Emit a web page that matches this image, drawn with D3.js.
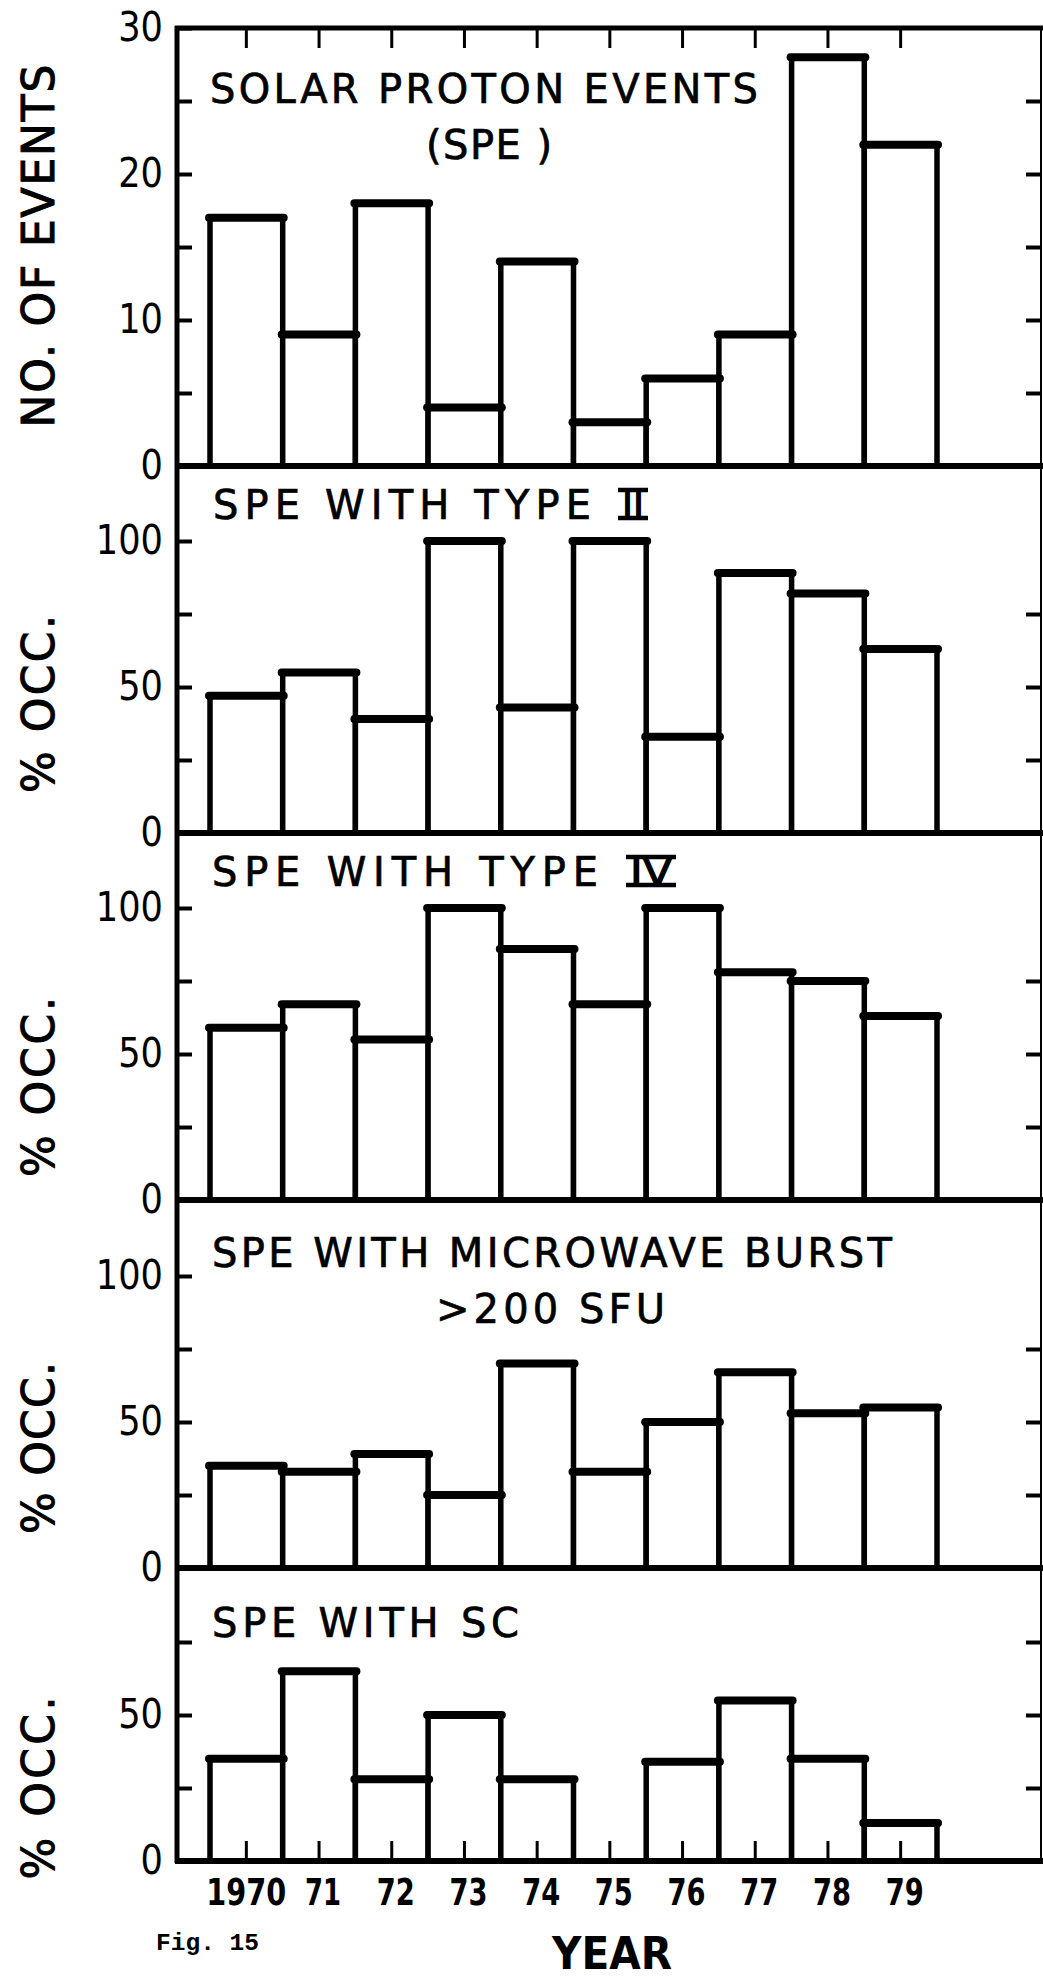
<!DOCTYPE html>
<html>
<head>
<meta charset="utf-8">
<script src="https://cdn.jsdelivr.net/npm/d3@7"></script>
<style>
  html, body { margin: 0; padding: 0; background: #fff; }
  svg { display: block; }
</style>
</head>
<body>
<svg id="chart" width="1043" height="1978"></svg>
<script>
// ---- data ----
const years = [1970, 1971, 1972, 1973, 1974, 1975, 1976, 1977, 1978, 1979];
const yearLabels = ["1970", "71", "72", "73", "74", "75", "76", "77", "78", "79"];

// number of solar proton events per year
const speCounts = [17, 9, 18, 4, 14, 3, 6, 9, 28, 22];
// percentage of SPE accompanied by each phenomenon
const pctTypeII = [47, 55, 39, 100, 43, 100, 33, 89, 82, 63];
const pctTypeIV = [59, 67, 55, 100, 86, 67, 100, 78, 75, 63];
const pctMicrowave = [35, 33, 39, 25, 70, 33, 50, 67, 53, 55];
const pctSC = [35, 65, 28, 50, 28, 0, 34, 55, 35, 13];

// tick values and labelled ticks
const countTicks = [0, 5, 10, 15, 20, 25, 30];
const countTickLabels = [0, 10, 20, 30];
const pctTicks = [0, 25, 50, 75, 100];
const pctTicksLow = [0, 25, 50, 75];
const pctTickLabels = [0, 50, 100];

// panel titles; a numeral entry is lettered as a barred Roman numeral
const panelTitles = [
  ["SOLAR PROTON EVENTS", "(SPE )"],
  ["SPE WITH TYPE"],
  ["SPE WITH TYPE"],
  ["SPE WITH MICROWAVE BURST", ">200 SFU"],
  ["SPE WITH SC"]
];
const panelNumerals = [null, "II", "IV", null, null];
const axisTitles = ["NO. OF EVENTS", "% OCC.", "% OCC.", "% OCC.", "% OCC."];
const panelSeries = [speCounts, pctTypeII, pctTypeIV, pctMicrowave, pctSC];
const panelMax = [30, 100, 100, 100, 100];
const panelTicks = [countTicks, pctTicks, pctTicks, pctTicks, pctTicksLow];
const panelTickLabels = [countTickLabels, pctTickLabels, pctTickLabels, pctTickLabels, pctTickLabels];

// ---- layout ----
const W = 1043, H = 1978;
const axisX = 177, rightX = 1041, edgeX = 1043;
const barLeft = 210, barRight = 937;
const pctHeight = 292;                     // pixels for 100 %
const panelBox = [
  { top: 28,   base: 466 },
  { top: 466,  base: 833 },
  { top: 833,  base: 1200 },
  { top: 1200, base: 1568 },
  { top: 1568, base: 1861 }
];
const axisTitlePos = [
  { x: 54, cy: 246,  len: 363 },
  { x: 54, cy: 704,  len: 178 },
  { x: 54, cy: 1087, len: 180 },
  { x: 54, cy: 1448, len: 172 },
  { x: 54, cy: 1788, len: 183 }
];
const titlePos = [
  [{ x: 210, y: 103, len: 548 }, { x: 489, y: 159, len: 126, mid: true }],
  [{ x: 213, y: 519, len: 378 }],
  [{ x: 212, y: 886, len: 386 }],
  [{ x: 212, y: 1267, len: 680 }, { x: 436, y: 1323, len: 229 }],
  [{ x: 212, y: 1637, len: 307 }]
];
const numeralPos = [null, { x: 618, w: 30, y: 519 }, { x: 626, w: 50, y: 886 }, null, null];
const yearLabelWidth = [80, 36, 38, 38, 38, 38, 38, 38, 38, 38];

const FONT = "'DejaVu Sans', 'Liberation Sans', sans-serif";
const svg = d3.select("#chart");
svg.append("rect").attr("width", W).attr("height", H).attr("fill", "#fff");

const x = d3.scaleBand().domain(years).range([barLeft, barRight]).paddingInner(0).paddingOuter(0);

panelSeries.forEach((series, p) => {
  const box = panelBox[p];
  const y = d3.scaleLinear()
    .domain([0, panelMax[p]])
    .range(p === 0 ? [box.base, box.top] : [box.base, box.base - pctHeight * panelMax[p] / 100]);

  const g = svg.append("g");

  // bars: open boxes with a heavier top edge
  const data = series.map((v, i) => ({ year: years[i], v })).filter(d => d.v > 0);
  const bars = g.append("g");
  bars.selectAll("rect")
    .data(data)
    .join("rect")
    .attr("x", d => x(d.year))
    .attr("y", d => y(d.v))
    .attr("width", x.bandwidth())
    .attr("height", d => y(0) - y(d.v))
    .attr("fill", "#fff")
    .attr("stroke", "#000")
    .attr("stroke-width", 5.5)
    .attr("stroke-linejoin", "round");
  bars.selectAll("line.top")
    .data(data)
    .join("line")
    .attr("class", "top")
    .attr("x1", d => x(d.year) - 1)
    .attr("x2", d => x(d.year) + x.bandwidth() + 1)
    .attr("y1", d => y(d.v))
    .attr("y2", d => y(d.v))
    .attr("stroke", "#000")
    .attr("stroke-width", 8)
    .attr("stroke-linecap", "round");

  // left axis with inward ticks
  const left = d3.axisLeft(y)
    .tickValues(panelTicks[p])
    .tickSizeInner(-15)
    .tickSizeOuter(0)
    .tickPadding(14)
    .tickFormat(d => panelTickLabels[p].includes(d) ? d : "");
  const ga = g.append("g").attr("transform", `translate(${axisX},0)`).call(left);
  ga.select(".domain").remove();
  ga.selectAll(".tick line").attr("stroke", "#000").attr("stroke-width", 4);
  ga.selectAll(".tick text")
    .attr("font-family", FONT)
    .attr("font-size", 40)
    .attr("fill", "#000")
    .each(function () {
      const w = this.getComputedTextLength();
      if (w > 0) d3.select(this).attr("textLength", w * 0.88).attr("lengthAdjust", "spacingAndGlyphs");
    });

  // right axis ticks
  const right = d3.axisRight(y)
    .tickValues(panelTicks[p].filter(v => v > 0 && v < panelMax[p]))
    .tickSizeInner(-15)
    .tickSizeOuter(0)
    .tickFormat("");
  const gr = g.append("g").attr("transform", `translate(${rightX},0)`).call(right);
  gr.select(".domain").remove();
  gr.selectAll(".tick line").attr("stroke", "#000").attr("stroke-width", 4);

  // baseline of the panel
  g.append("line")
    .attr("x1", axisX - 2).attr("x2", edgeX)
    .attr("y1", y(0)).attr("y2", y(0))
    .attr("stroke", "#000").attr("stroke-width", 6);

  // panel title
  panelTitles[p].forEach((t, k) => {
    const pos = titlePos[p][k];
    g.append("text")
      .attr("x", pos.x)
      .attr("y", pos.y)
      .attr("text-anchor", pos.mid ? "middle" : "start")
      .attr("font-family", FONT)
      .attr("font-size", 40)
      .attr("fill", "#000")
      .attr("stroke", "#000")
      .attr("stroke-width", 0.7)
      .attr("textLength", pos.len)
      .attr("lengthAdjust", "spacing")
      .text(t);
  });

  // barred Roman numeral after the title
  if (panelNumerals[p]) {
    const np = numeralPos[p];
    g.append("text")
      .attr("x", np.x + np.w / 2)
      .attr("y", np.y - 1)
      .attr("text-anchor", "middle")
      .attr("font-family", FONT)
      .attr("font-size", 38)
      .attr("fill", "#000")
      .attr("stroke", "#000")
      .attr("stroke-width", 1.2)
      .attr("textLength", np.w - 8)
      .attr("lengthAdjust", "spacingAndGlyphs")
      .text(panelNumerals[p]);
    [np.y - 29, np.y - 1].forEach(yy => {
      g.append("line")
        .attr("x1", np.x).attr("x2", np.x + np.w)
        .attr("y1", yy).attr("y2", yy)
        .attr("stroke", "#000").attr("stroke-width", 4.5);
    });
  }

  // rotated axis title
  const at = axisTitlePos[p];
  g.append("text")
    .attr("transform", `translate(${at.x},${at.cy}) rotate(-90)`)
    .attr("text-anchor", "middle")
    .attr("font-family", FONT)
    .attr("font-size", 44)
    .attr("fill", "#000")
    .attr("stroke", "#000")
    .attr("stroke-width", 1.0)
    .attr("textLength", at.len)
    .attr("lengthAdjust", "spacing")
    .text(axisTitles[p]);
});

// frame: top border, left axis line, right border
svg.append("line")
  .attr("x1", axisX - 2).attr("x2", edgeX)
  .attr("y1", panelBox[0].top).attr("y2", panelBox[0].top)
  .attr("stroke", "#000").attr("stroke-width", 5);
svg.append("line")
  .attr("x1", axisX).attr("x2", axisX)
  .attr("y1", panelBox[0].top - 2).attr("y2", panelBox[4].base + 2)
  .attr("stroke", "#000").attr("stroke-width", 5);
svg.append("line")
  .attr("x1", rightX).attr("x2", rightX)
  .attr("y1", panelBox[0].top).attr("y2", panelBox[4].base)
  .attr("stroke", "#000").attr("stroke-width", 2);

// year ticks hanging from the top border
const topAxis = d3.axisBottom(x).tickSizeInner(20).tickSizeOuter(0).tickFormat("");
const gt = svg.append("g").attr("transform", `translate(0,${panelBox[0].top})`).call(topAxis);
gt.select(".domain").remove();
gt.selectAll(".tick line").attr("stroke", "#000").attr("stroke-width", 3);

// year axis along the bottom: ticks rise into the bars, labels below
const bottomAxis = d3.axisBottom(x)
  .tickSizeInner(-20)
  .tickSizeOuter(0)
  .tickPadding(18)
  .tickFormat((d, i) => yearLabels[i]);
const gb = svg.append("g").attr("transform", `translate(0,${panelBox[4].base})`).call(bottomAxis);
gb.select(".domain").remove();
gb.selectAll(".tick line").attr("stroke", "#000").attr("stroke-width", 3);
gb.selectAll(".tick text")
  .attr("x", (d, i) => i === 0 ? 0 : 4)
  .attr("font-family", FONT)
  .attr("font-weight", "bold")
  .attr("font-size", 37)
  .attr("fill", "#000")
  .attr("textLength", (d, i) => yearLabelWidth[i])
  .attr("lengthAdjust", "spacingAndGlyphs");

// axis name and figure number
svg.append("text")
  .attr("x", 612).attr("y", 1969)
  .attr("text-anchor", "middle")
  .attr("font-family", FONT)
  .attr("font-weight", "bold")
  .attr("font-size", 44)
  .attr("fill", "#000")
  .attr("textLength", 120)
  .attr("lengthAdjust", "spacingAndGlyphs")
  .text("YEAR");
svg.append("text")
  .attr("x", 156).attr("y", 1950)
  .attr("font-family", "'Liberation Mono', 'DejaVu Sans Mono', monospace")
  .attr("font-weight", "bold")
  .attr("font-size", 23)
  .attr("fill", "#000")
  .attr("textLength", 103)
  .attr("lengthAdjust", "spacingAndGlyphs")
  .text("Fig. 15");
</script>
</body>
</html>
